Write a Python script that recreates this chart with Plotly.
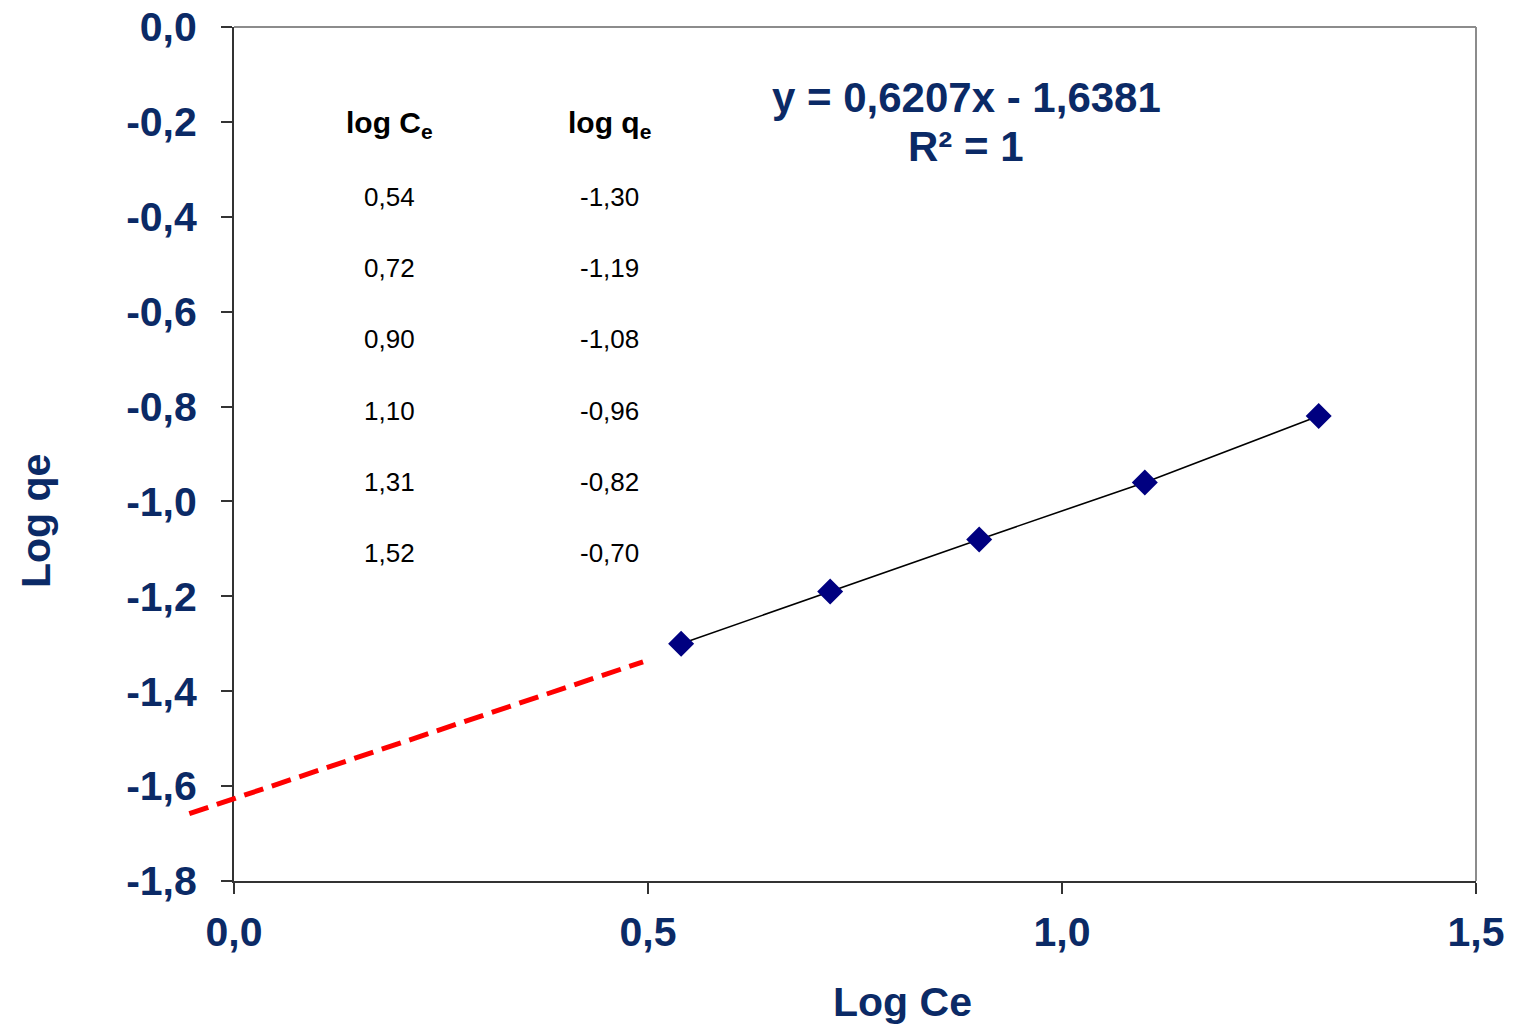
import plotly.graph_objects as go

# ---- data ----
log_ce = [0.54, 0.72, 0.90, 1.10, 1.31, 1.52]
log_qe = [-1.30, -1.19, -1.08, -0.96, -0.82, -0.70]
table_ce_text = ["0,54", "0,72", "0,90", "1,10", "1,31", "1,52"]
table_qe_text = ["-1,30", "-1,19", "-1,08", "-0,96", "-0,82", "-0,70"]
n_plotted = 5  # points shown in the graph

extrap_x = [-0.054, 0.494]
extrap_y = [-1.658, -1.338]

x_ticks = [0.0, 0.5, 1.0, 1.5]
x_tick_labels = ["0,0", "0,5", "1,0", "1,5"]
y_ticks = [0.0, -0.2, -0.4, -0.6, -0.8, -1.0, -1.2, -1.4, -1.6, -1.8]
y_tick_labels = ["0,0", "-0,2", "-0,4", "-0,6", "-0,8", "-1,0", "-1,2", "-1,4", "-1,6", "-1,8"]

equation_text = "y = 0,6207x - 1,6381"
r2_text = "R² = 1"

X_RANGE = [0.0, 1.5]
Y_RANGE = [-1.8, 0.0]

NAVY = "#0b2a66"
FONT = "Liberation Sans, Arial, sans-serif"

fig = go.Figure()

fig.add_trace(go.Scatter(
    x=log_ce[:n_plotted], y=log_qe[:n_plotted],
    mode="lines+markers",
    line=dict(color="black", width=1.6),
    marker=dict(symbol="diamond", size=20, color="#000080",
                line=dict(color="#000080", width=0)),
    showlegend=False, cliponaxis=False,
))

# red dashed extrapolation drawn with paper refs so it may extend past the axis
def to_px(x):
    return (x - X_RANGE[0]) / (X_RANGE[1] - X_RANGE[0])

def to_py(y):
    return (y - Y_RANGE[0]) / (Y_RANGE[1] - Y_RANGE[0])

fig.add_shape(type="line", xref="paper", yref="paper",
              x0=to_px(extrap_x[0]), y0=to_py(extrap_y[0]),
              x1=to_px(extrap_x[1]), y1=to_py(extrap_y[1]),
              line=dict(color="#ff0000", width=5, dash="20px,9px"))

# grey top / right border
fig.add_shape(type="line", xref="paper", yref="paper", x0=0, y0=1, x1=1, y1=1,
              line=dict(color="#8c8c8c", width=2))
fig.add_shape(type="line", xref="paper", yref="paper", x0=1, y0=0, x1=1, y1=1,
              line=dict(color="#8c8c8c", width=2))

# table annotations
col1_x, col2_x = 0.188, 0.453
for hx, htxt in [(col1_x, "<b>log C<sub>e</sub></b>"), (col2_x, "<b>log q<sub>e</sub></b>")]:
    fig.add_annotation(x=hx, y=-0.205, xref="x", yref="y", text=htxt,
                       xanchor="center", yanchor="middle",
                       showarrow=False, font=dict(family=FONT, size=30, color="black"))
for i, (a, b) in enumerate(zip(table_ce_text, table_qe_text)):
    yy = -0.358 - 0.1502 * i
    fig.add_annotation(x=col1_x, y=yy, xref="x", yref="y", text=a, showarrow=False,
                       xanchor="center", yanchor="middle",
                       font=dict(family=FONT, size=26, color="black"))
    fig.add_annotation(x=col2_x, y=yy, xref="x", yref="y", text=b, showarrow=False,
                       xanchor="center", yanchor="middle",
                       font=dict(family=FONT, size=26, color="black"))

# equation
fig.add_annotation(x=0.8845, y=-0.148, xref="x", yref="y", text="<b>" + equation_text + "</b>",
                   xanchor="center", yanchor="middle",
                   showarrow=False, font=dict(family=FONT, size=42, color=NAVY))
fig.add_annotation(x=0.8845, y=-0.251, xref="x", yref="y", text="<b>" + r2_text + "</b>",
                   xanchor="center", yanchor="middle",
                   showarrow=False, font=dict(family=FONT, size=42, color=NAVY))

# axis titles as annotations (offset like the original)
fig.add_annotation(x=(903 - 234) / 1242, y=(881 - 1002) / 854, xref="paper", yref="paper",
                   xanchor="center", yanchor="middle",
                   text="<b>Log Ce</b>", showarrow=False,
                   font=dict(family=FONT, size=41, color=NAVY))
fig.add_annotation(x=(36 - 234) / 1242, y=(881 - 521) / 854, xref="paper", yref="paper",
                   xanchor="center", yanchor="middle",
                   text="<b>Log qe</b>", showarrow=False, textangle=-90,
                   font=dict(family=FONT, size=41, color=NAVY))

tickfont = dict(family=FONT, size=41, color=NAVY, weight="bold")

fig.update_xaxes(range=X_RANGE, tickvals=x_ticks, ticktext=x_tick_labels,
                 showgrid=False, zeroline=False, showline=True, linecolor="#333333", linewidth=2,
                 ticks="outside", ticklen=11, tickwidth=1.5, tickcolor="#333333",
                 ticklabelstandoff=3, automargin=False,
                 tickfont=tickfont)
fig.update_yaxes(range=Y_RANGE, tickvals=y_ticks, ticktext=y_tick_labels,
                 showgrid=False, zeroline=False, showline=True, linecolor="#333333", linewidth=2,
                 ticks="outside", ticklen=11, tickwidth=1.5, tickcolor="#333333",
                 ticklabelstandoff=16, automargin=False,
                 tickfont=tickfont)

fig.update_layout(
    width=1517, height=1030,
    margin=dict(l=234, r=41, t=27, b=149, autoexpand=False),
    paper_bgcolor="white", plot_bgcolor="white",
    font=dict(family=FONT),
    showlegend=False,
)

fig.write_html("out.html", include_plotlyjs=True, config={"displayModeBar": False})
